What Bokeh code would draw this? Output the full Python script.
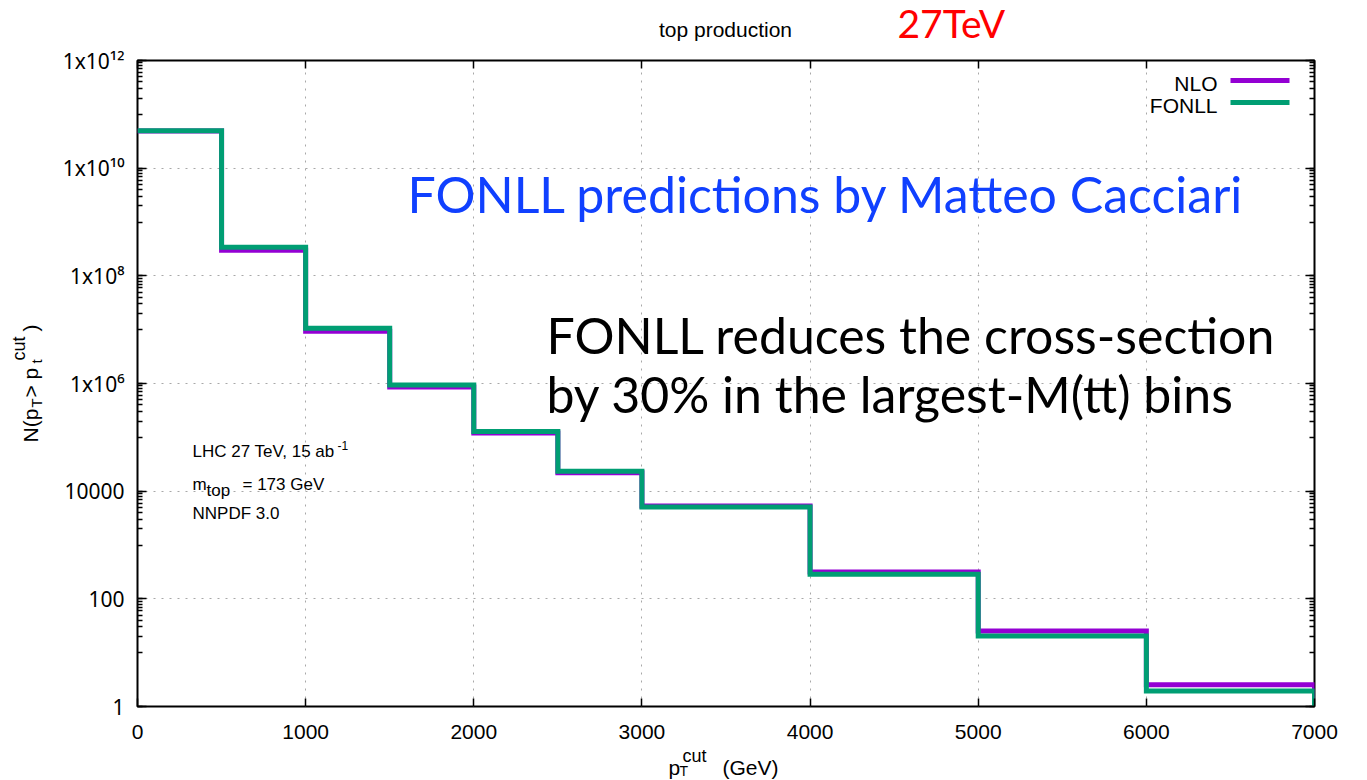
import numpy as np
from bokeh.plotting import figure
from bokeh.models import (LogAxis, LinearAxis, LogTicker, FixedTicker,
                          CustomJSTickFormatter, BoxAnnotation, Range1d)
from bokeh.core.properties import value
from bokeh.embed import file_html
from bokeh.resources import INLINE

# transverse-momentum cut bins (GeV)
pt_edges = [0, 500, 1000, 1500, 2000, 2500, 3000, 4000, 5000, 6000, 7000]
# expected number of top events with pT above the cut
nlo_counts = [4.9e10, 3.0e8, 9.3e6, 8.6e5, 1.2e5, 2.2e4, 5.3e3, 315, 25.3, 2.54]
fonll_counts = [4.97e10, 3.39e8, 1.06e7, 9.4e5, 1.28e5, 2.34e4, 5.08e3, 287, 20.4, 1.94]
series_names = ["NLO", "FONLL"]
series_colors = ["#9400d3", "#009e73"]
x_tick_values = [0, 1000, 2000, 3000, 4000, 5000, 6000, 7000]
x_lo, x_hi = 0, 7000
y_lo, y_hi = 1, 1e12

W, H = 1367, 780
FL, FR, FT, FB = 137, 1314, 60, 706   # frame edges in canvas pixels

p = figure(width=W, height=H, output_backend="svg", toolbar_location=None,
           x_range=Range1d(x_lo, x_hi), y_range=Range1d(y_lo, y_hi),
           y_axis_type="log",
           min_border_left=FL, min_border_right=W - FR,
           min_border_top=FT, min_border_bottom=H - FB)
p.background_fill_color = "white"
p.border_fill_color = "white"
p.outline_line_color = "black"
p.outline_line_width = 2

GNU_FONT = "Liberation Sans"
x_ticker = FixedTicker(ticks=x_tick_values, minor_ticks=[])
y_ticker = LogTicker(base=100, mantissas=[1], num_minor_ticks=10, desired_num_ticks=7)
y_fmt = CustomJSTickFormatter(code="""
const e = Math.round(Math.log10(tick));
if (e < 6) { return String(Math.round(Math.pow(10, e))); }
const sup = {"0":"\u2070","1":"\u00b9","2":"\u00b2","3":"\u00b3","4":"\u2074",
             "5":"\u2075","6":"\u2076","7":"\u2077","8":"\u2078","9":"\u2079"};
return "1x10" + String(e).split("").map(c => sup[c]).join("");
""")
blank_fmt = CustomJSTickFormatter(code='return "";')


def style_axis(ax, tick_in, minor_in, font=GNU_FONT, standoff=12):
    ax.axis_line_color = None
    ax.major_tick_in = tick_in
    ax.major_tick_out = 0
    ax.minor_tick_in = minor_in
    ax.minor_tick_out = 0
    ax.major_tick_line_color = "black"
    ax.major_tick_line_width = 1.5
    ax.minor_tick_line_color = "black"
    ax.minor_tick_line_width = 1.5
    ax.major_label_standoff = standoff
    ax.major_label_text_font = font
    ax.major_label_text_font_size = "21px"
    ax.major_label_text_color = "black"


xa = p.xaxis[0]
xa.ticker = x_ticker
style_axis(xa, 8, 0, standoff=18)

ya = p.yaxis[0]
ya.ticker = y_ticker
ya.formatter = y_fmt
style_axis(ya, 9, 5, font="Noto Sans", standoff=13)

# mirrored tick marks on the top and right edges, without labels
top_ax = LinearAxis(ticker=x_ticker, formatter=blank_fmt)
style_axis(top_ax, 8, 0, standoff=0)
p.add_layout(top_ax, "above")

right_ax = LogAxis(ticker=y_ticker, formatter=blank_fmt)
style_axis(right_ax, 9, 5, standoff=0)
p.add_layout(right_ax, "right")

for g in (p.xgrid[0], p.ygrid[0]):
    g.grid_line_color = "#a8a8a8"
    g.grid_line_dash = "2 6"
    g.grid_line_width = 1
p.xgrid[0].ticker = x_ticker
p.ygrid[0].ticker = y_ticker


def step_path(edges, counts):
    xs = list(np.repeat(edges, 2)[1:-1]) + [edges[-1]]
    ys = list(np.repeat(counts, 2)) + [y_lo]
    return xs, ys


for counts, color in zip([nlo_counts, fonll_counts], series_colors):
    xs, ys = step_path(pt_edges, counts)
    p.line(xs, ys, line_color=color, line_width=5, line_join="miter")


BASE_SHIFT = 0.4   # distance (in em) from the glyph anchor down to the baseline


def put(text, cx, cy, font=GNU_FONT, size=21, color="black", align="left",
        angle=0.0):
    """Write a text piece whose baseline starts at canvas pixel (cx, cy),
    offset from the bottom-left corner of the plot frame."""
    dx = -BASE_SHIFT * size * np.sin(angle)
    dy = -BASE_SHIFT * size * np.cos(angle)
    p.text(x=[x_lo], y=[y_lo], text=[text],
           x_offset=cx - FL + dx, y_offset=cy - FB + dy, angle=angle,
           text_font=value(font), text_font_size=value(f"{size}px"),
           text_color=color, text_align=align, text_baseline="alphabetic",
           level="overlay")


# heading
put("top production", 725, 37, size=21, align="center")
put("27TeV", 897, 38, font="Lato", size=39, color="#ff0000")

# axis titles
put("p", 668, 775)
put("T", 679, 776, size=14)
put("cut", 682, 763, size=18)
put("(GeV)", 722, 775)

ang = np.pi / 2
put("N(p", 38, 442, angle=ang)
put("T", 42, 407, size=15, angle=ang)
put(" > p", 38, 397, angle=ang)
put("t", 42, 363, size=15, angle=ang)
put("cut", 26, 360, size=18, angle=ang)
put(")", 38, 331, angle=ang)

# legend: label on the left, line sample on the right
legend_rows = [(91, 80), (113, 102)]
for name, color, (ty, ly) in zip(series_names, series_colors, legend_rows):
    put(name, 1217, ty, align="right")
    p.add_layout(BoxAnnotation(left=1230 - FL, right=1289 - FL,
                               bottom=FB - ly - 2.5, top=FB - ly + 2.5,
                               left_units="screen", right_units="screen",
                               top_units="screen", bottom_units="screen",
                               fill_color=color, fill_alpha=1.0,
                               line_color=None))

# run conditions
put("LHC 27 TeV, 15 ab", 192, 458, size=17)
put("-1", 337, 450, size=12)
put("m", 192, 491, size=17)
put("top", 206, 497, size=17)
put("= 173 GeV", 242, 491, size=17)
put("NNPDF 3.0", 192, 520, size=17)

# commentary
put("FONLL predictions by Matteo Cacciari", 407, 213, font="Lato", size=50,
    color="#1040ff")
put("FONLL reduces the cross-section", 546, 354, font="Lato", size=50)
put("by 30% in the largest-M(tt) bins", 546, 413, font="Lato", size=50)

open("out.html", "w").write(file_html(p, INLINE))
